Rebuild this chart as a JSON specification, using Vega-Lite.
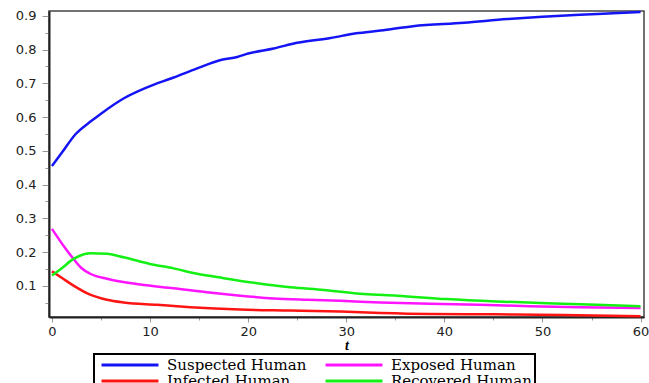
{
  "$schema": "https://vega.github.io/schema/vega-lite/v6.json",
  "width": 595,
  "height": 306,
  "autosize": {"type": "none"},
  "padding": {"left": 49, "top": 11, "right": 5, "bottom": 66},
  "background": "white",
  "config": {
    "view": {"stroke": "#444", "strokeWidth": 1.5},
    "axis": {"labelFont": "DejaVu Sans", "labelFontSize": 13, "labelColor": "#222", "domainColor": "#222", "domainWidth": 2, "tickColor": "#999", "grid": false}
  },
  "datasets": {
    "curves": [
      {"t": 0, "series": "Suspected Human", "v": 0.455},
      {"t": 1, "series": "Suspected Human", "v": 0.494},
      {"t": 2.4, "series": "Suspected Human", "v": 0.549},
      {"t": 4, "series": "Suspected Human", "v": 0.588},
      {"t": 5, "series": "Suspected Human", "v": 0.61},
      {"t": 7.3, "series": "Suspected Human", "v": 0.655},
      {"t": 9.7, "series": "Suspected Human", "v": 0.688},
      {"t": 12.4, "series": "Suspected Human", "v": 0.717},
      {"t": 14.8, "series": "Suspected Human", "v": 0.744},
      {"t": 17.2, "series": "Suspected Human", "v": 0.769},
      {"t": 18.9, "series": "Suspected Human", "v": 0.778},
      {"t": 20, "series": "Suspected Human", "v": 0.788},
      {"t": 22.6, "series": "Suspected Human", "v": 0.803},
      {"t": 25, "series": "Suspected Human", "v": 0.82},
      {"t": 28.4, "series": "Suspected Human", "v": 0.834},
      {"t": 31, "series": "Suspected Human", "v": 0.848},
      {"t": 33.5, "series": "Suspected Human", "v": 0.856},
      {"t": 36.8, "series": "Suspected Human", "v": 0.869},
      {"t": 42, "series": "Suspected Human", "v": 0.879},
      {"t": 46.4, "series": "Suspected Human", "v": 0.89},
      {"t": 50, "series": "Suspected Human", "v": 0.897},
      {"t": 53.8, "series": "Suspected Human", "v": 0.903},
      {"t": 57.2, "series": "Suspected Human", "v": 0.907},
      {"t": 60, "series": "Suspected Human", "v": 0.911},
      {"t": 0, "series": "Exposed Human", "v": 0.269},
      {"t": 1.4, "series": "Exposed Human", "v": 0.21},
      {"t": 2.2, "series": "Exposed Human", "v": 0.18},
      {"t": 3, "series": "Exposed Human", "v": 0.153},
      {"t": 3.9, "series": "Exposed Human", "v": 0.136},
      {"t": 5.6, "series": "Exposed Human", "v": 0.121},
      {"t": 9, "series": "Exposed Human", "v": 0.104},
      {"t": 12.4, "series": "Exposed Human", "v": 0.093},
      {"t": 15.8, "series": "Exposed Human", "v": 0.081},
      {"t": 19.2, "series": "Exposed Human", "v": 0.071},
      {"t": 22.6, "series": "Exposed Human", "v": 0.063},
      {"t": 26, "series": "Exposed Human", "v": 0.059},
      {"t": 29.4, "series": "Exposed Human", "v": 0.056},
      {"t": 33.5, "series": "Exposed Human", "v": 0.051},
      {"t": 38.5, "series": "Exposed Human", "v": 0.047},
      {"t": 43.6, "series": "Exposed Human", "v": 0.044},
      {"t": 48.7, "series": "Exposed Human", "v": 0.04},
      {"t": 53.8, "series": "Exposed Human", "v": 0.037},
      {"t": 60, "series": "Exposed Human", "v": 0.035},
      {"t": 0, "series": "Infected Human", "v": 0.143},
      {"t": 1, "series": "Infected Human", "v": 0.124},
      {"t": 2.2, "series": "Infected Human", "v": 0.101},
      {"t": 3.9, "series": "Infected Human", "v": 0.074},
      {"t": 5.6, "series": "Infected Human", "v": 0.059},
      {"t": 7.3, "series": "Infected Human", "v": 0.051},
      {"t": 10.7, "series": "Infected Human", "v": 0.044},
      {"t": 14.1, "series": "Infected Human", "v": 0.037},
      {"t": 19.2, "series": "Infected Human", "v": 0.03},
      {"t": 24.3, "series": "Infected Human", "v": 0.027},
      {"t": 29.4, "series": "Infected Human", "v": 0.024},
      {"t": 33.5, "series": "Infected Human", "v": 0.02},
      {"t": 38.5, "series": "Infected Human", "v": 0.017},
      {"t": 45.3, "series": "Infected Human", "v": 0.016},
      {"t": 52.1, "series": "Infected Human", "v": 0.014},
      {"t": 60, "series": "Infected Human", "v": 0.01},
      {"t": 0, "series": "Recovered Human", "v": 0.131},
      {"t": 0.9, "series": "Recovered Human", "v": 0.15},
      {"t": 2.2, "series": "Recovered Human", "v": 0.18},
      {"t": 3.9, "series": "Recovered Human", "v": 0.197},
      {"t": 5.6, "series": "Recovered Human", "v": 0.195},
      {"t": 7.3, "series": "Recovered Human", "v": 0.185},
      {"t": 10, "series": "Recovered Human", "v": 0.165},
      {"t": 12.4, "series": "Recovered Human", "v": 0.152},
      {"t": 14.8, "series": "Recovered Human", "v": 0.136},
      {"t": 17.5, "series": "Recovered Human", "v": 0.123},
      {"t": 20.9, "series": "Recovered Human", "v": 0.108},
      {"t": 24.3, "series": "Recovered Human", "v": 0.096},
      {"t": 27.7, "series": "Recovered Human", "v": 0.088},
      {"t": 31.8, "series": "Recovered Human", "v": 0.076},
      {"t": 35.2, "series": "Recovered Human", "v": 0.071},
      {"t": 40.2, "series": "Recovered Human", "v": 0.061},
      {"t": 45.3, "series": "Recovered Human", "v": 0.054},
      {"t": 50.4, "series": "Recovered Human", "v": 0.049},
      {"t": 55.5, "series": "Recovered Human", "v": 0.044},
      {"t": 60, "series": "Recovered Human", "v": 0.04}
    ]
  },
  "data": {"name": "curves"},
  "layer": [
    {
      "mark": {"type": "point", "opacity": 0},
      "encoding": {
        "x": {"field": "t", "type": "quantitative", "scale": {"domain": [-0.3, 60.35], "nice": false, "zero": false},
              "axis": {"orient": "bottom", "values": [5, 15, 25, 35, 45, 55], "labels": false, "domain": false, "tickSize": 3, "title": null}},
        "y": {"field": "v", "type": "quantitative", "scale": {"domain": [0.008, 0.914], "nice": false, "zero": false},
              "axis": {"orient": "left", "values": [0.05, 0.15, 0.25, 0.35, 0.45, 0.55, 0.65, 0.75, 0.85], "labels": false, "domain": false, "tickSize": 4, "title": null}}
      }
    },
    {
      "mark": {"type": "line", "strokeWidth": 2.5, "interpolate": "monotone"},
      "encoding": {
        "x": {"field": "t", "type": "quantitative",
              "axis": {"orient": "bottom", "values": [0, 10, 20, 30, 40, 50, 60], "tickSize": 5, "labelPadding": 3, "title": "t", "titleFont": "Liberation Serif", "titleFontStyle": "italic", "titleFontWeight": "bold", "titleFontSize": 14, "titlePadding": 0, "titleColor": "#000"}},
        "y": {"field": "v", "type": "quantitative",
              "axis": {"orient": "left", "values": [0.1, 0.2, 0.3, 0.4, 0.5, 0.6, 0.7, 0.8, 0.9], "format": ".1f", "tickSize": 7, "labelPadding": 6, "title": null}},
        "color": {"field": "series", "type": "nominal",
                  "scale": {"domain": ["Suspected Human", "Infected Human", "Exposed Human", "Recovered Human"], "range": ["#1414f5", "#ff1414", "#ff14ff", "#14f014"]},
                  "legend": {"orient": "none", "legendX": 45, "legendY": 343, "columns": 2, "title": null, "symbolType": "M-4.38,0H4.38", "symbolSize": 169, "symbolStrokeWidth": 3, "symbolOffset": 25, "labelFont": "DejaVu Serif", "labelFontSize": 15, "labelColor": "#000", "strokeColor": "#000", "fillColor": "white", "padding": 3, "columnPadding": 12, "rowPadding": 0, "labelOffset": 29,
                             "encode": {"legend": {"update": {"strokeWidth": {"value": 2}}}}}}
      }
    }
  ],
  "resolve": {"axis": {"x": "independent", "y": "independent"}}
}
